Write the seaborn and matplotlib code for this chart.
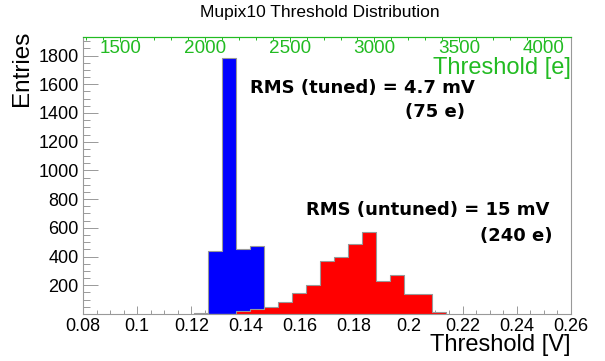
import numpy as np
import pandas as pd
import matplotlib
matplotlib.use("Agg")
import matplotlib.pyplot as plt
import seaborn as sns
from matplotlib.ticker import MultipleLocator

# Histogram contents (18 bins between 0.1208 V and 0.2138 V)
bin_edges = list(np.linspace(0.1208, 0.2138, 19))
tuned_counts = [10, 439, 1781, 453, 476, 0, 0, 0, 0, 0, 0, 0, 0, 0, 0, 0, 0, 0]
untuned_counts = [0, 0, 0, 23, 35, 47, 84, 144, 204, 367, 397, 485, 569, 232, 270, 141, 141, 12]

x_ticks = [0.08, 0.1, 0.12, 0.14, 0.16, 0.18, 0.2, 0.22, 0.24, 0.26]
y_ticks = [200, 400, 600, 800, 1000, 1200, 1400, 1600, 1800]
e_ticks = [1500, 2000, 2500, 3000, 3500, 4000]

tuned_text = ["RMS (tuned) = 4.7 mV", "(75 e)"]
untuned_text = ["RMS (untuned) = 15 mV", "(240 e)"]
e_per_volt = 16000  # 75 e / 4.7 mV

centers = [(a + b) / 2 for a, b in zip(bin_edges[:-1], bin_edges[1:])]
df = pd.DataFrame({"threshold": centers, "tuned": tuned_counts, "untuned": untuned_counts})

sns.set_style("ticks")
plt.rcParams["font.family"] = ["Liberation Sans", "DejaVu Sans"]
plt.rcParams["text.color"] = "black"

green = "#22bb22"
frame = "#999999"

fig = plt.figure(figsize=(6.05, 3.61), dpi=100)
ax = fig.add_axes([83 / 605, 1 - 314 / 361, 488 / 605, 277 / 361])

sns.histplot(data=df, x="threshold", weights="tuned", bins=bin_edges, element="step",
             fill=True, color="#0000ff", alpha=1, edgecolor="#999999",
             linewidth=0.8, ax=ax)
sns.histplot(data=df, x="threshold", weights="untuned", bins=bin_edges, element="step",
             fill=True, color="#ff0000", alpha=1, edgecolor="#999999",
             linewidth=0.8, ax=ax)

ax.set_xlim(0.08, 0.26)
ax.set_ylim(0, 1929)
ax.set_xlabel("")
ax.set_ylabel("")
ax.xaxis.set_minor_locator(MultipleLocator(0.005))
ax.yaxis.set_minor_locator(MultipleLocator(50))
ax.set_yticks(y_ticks)
ax.set_xticks(x_ticks)
ax.set_xticklabels([f"{v:g}" for v in x_ticks])

ax.tick_params(axis="x", which="major", direction="in", length=5.8, width=0.7,
               color=frame, labelcolor="black", labelsize=13, pad=3)
ax.tick_params(axis="x", which="minor", direction="in", length=2.9, width=0.7, color=frame)
ax.tick_params(axis="y", which="major", direction="in", length=10.5, width=0.7,
               color=frame, labelcolor="black", labelsize=13, pad=3)
ax.tick_params(axis="y", which="minor", direction="in", length=5.3, width=0.7, color=frame)

for side in ["left", "right", "bottom"]:
    ax.spines[side].set_color(frame)
    ax.spines[side].set_linewidth(0.8)
ax.spines["top"].set_color(green)

# electrons axis on top
secax = ax.secondary_xaxis("top", functions=(lambda v: v * e_per_volt,
                                             lambda e: e / e_per_volt))
secax.set_xticks(e_ticks)
secax.xaxis.set_minor_locator(MultipleLocator(100))
secax.tick_params(axis="x", which="major", direction="in", length=3.6, width=0.7,
                  colors=green, labelsize=13.6, pad=-14.4)
secax.tick_params(axis="x", which="minor", direction="in", length=1.8, width=0.7,
                  colors=green)
secax.spines["top"].set_color(green)
secax.spines["top"].set_linewidth(0.8)

ax.text(1.0, 0.888, "Threshold [e]", transform=ax.transAxes, ha="right",
        va="center", color=green, fontsize=17)

bold = dict(transform=ax.transAxes, fontsize=13, fontweight="bold",
            family="DejaVu Sans", va="center", color="black")
ax.text(0.342, 0.816, tuned_text[0], ha="left", **bold)
ax.text(0.783, 0.731, tuned_text[1], ha="right", **bold)
ax.text(0.457, 0.374, untuned_text[0], ha="left", **bold)
ax.text(0.963, 0.282, untuned_text[1], ha="right", **bold)

fig.text(320 / 605, 1 - 13 / 361, "Mupix10 Threshold Distribution",
         ha="center", va="center", fontsize=12.5)
fig.text(22 / 605, 1 - 31 / 361, "Entries", rotation=90, ha="center",
         va="top", fontsize=17.5)
fig.text(571 / 605, 1 - 345 / 361, "Threshold [V]", ha="right",
         va="center", fontsize=17)

fig.savefig("out.png", dpi=100)
